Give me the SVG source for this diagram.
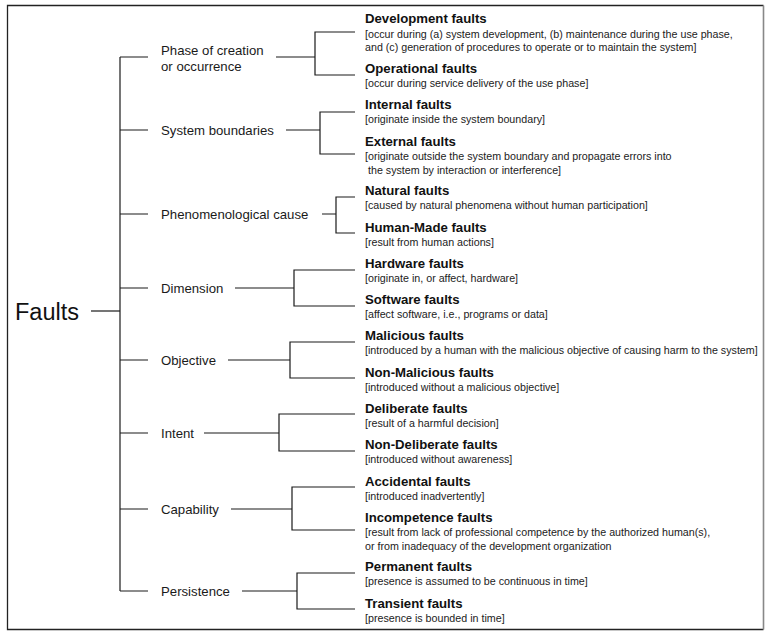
<svg xmlns="http://www.w3.org/2000/svg" width="770" height="636" viewBox="0 0 770 636">
<style>
text { font-family: "Liberation Sans", Arial, Helvetica, sans-serif; }
.root { font-size: 23.5px; fill: #111; }
.cat { font-size: 13.2px; fill: #1a1a1a; }
.ttl { font-size: 13.2px; font-weight: bold; fill: #111; }
.dsc { font-size: 10.7px; fill: #222; }
.conn { stroke: #1a1a1a; stroke-width: 1.2; fill: none; }
</style>
<rect width="770" height="636" fill="#ffffff"/>
<g id="frame">
  <path d="M763.5,5.5 H7.5 V629.5 H763.5" fill="none" stroke="#222" stroke-width="1.3"/>
  <path d="M763.5,5.5 V629.5" fill="none" stroke="#888" stroke-width="1.6"/>
</g>
<g id="connectors" class="conn">
  <path d="M91,311 H120"/>
  <path d="M120,57 V591"/>
  <path d="M120,57 H148 M120,130 H148 M120,214 H148 M120,288 H148 M120,360 H148 M120,433 H148 M120,509 H148 M120,591 H148"/>
  <path d="M276,57 H315 M355,32 H315 V75 H355"/>
  <path d="M286,130 H320 M355,112 H320 V154 H355"/>
  <path d="M322,214 H336 M355,197 H336 V233 H355"/>
  <path d="M235,288 H294 M355,270 H294 V306 H355"/>
  <path d="M228,360 H290 M355,342 H290 V378 H355"/>
  <path d="M204,433 H279 M355,414 H279 V451 H355"/>
  <path d="M231,509 H292 M355,487 H292 V530 H355"/>
  <path d="M242,591 H297 M355,573 H297 V609 H355"/>
</g>
<g id="faults"><text class="root" x="15" y="320">Faults</text></g>
<g id="phase"><text class="cat" x="161" y="54.5">Phase of creation</text><text class="cat" x="161" y="70.5">or occurrence</text></g>
<g id="boundaries"><text class="cat" x="161" y="134.5">System boundaries</text></g>
<g id="phenomenological"><text class="cat" x="161" y="219">Phenomenological cause</text></g>
<g id="dimension"><text class="cat" x="161" y="293">Dimension</text></g>
<g id="objective"><text class="cat" x="161" y="365">Objective</text></g>
<g id="intent"><text class="cat" x="161" y="438">Intent</text></g>
<g id="capability"><text class="cat" x="161" y="514">Capability</text></g>
<g id="persistence"><text class="cat" x="161" y="596">Persistence</text></g>

<g id="development"><text class="ttl" x="365" y="23">Development faults</text><text class="dsc" x="365" y="37.5">[occur during (a) system development, (b) maintenance during the use phase,</text><text class="dsc" x="365" y="51">and (c) generation of procedures to operate or to maintain the system]</text></g>
<g id="operational"><text class="ttl" x="365" y="72.5">Operational faults</text><text class="dsc" x="365" y="87">[occur during service delivery of the use phase]</text></g>
<g id="internal"><text class="ttl" x="365" y="108.5">Internal faults</text><text class="dsc" x="365" y="123">[originate inside the system boundary]</text></g>
<g id="external"><text class="ttl" x="365" y="145.5">External faults</text><text class="dsc" x="365" y="160">[originate outside the system boundary and propagate errors into</text><text class="dsc" x="368" y="173.5">the system by interaction or interference]</text></g>
<g id="natural"><text class="ttl" x="365" y="194.5">Natural faults</text><text class="dsc" x="365" y="209">[caused by natural phenomena without human participation]</text></g>
<g id="human-made"><text class="ttl" x="365" y="231.5">Human-Made faults</text><text class="dsc" x="365" y="246">[result from human actions]</text></g>
<g id="hardware"><text class="ttl" x="365" y="267.5">Hardware faults</text><text class="dsc" x="365" y="282">[originate in, or affect, hardware]</text></g>
<g id="software"><text class="ttl" x="365" y="303.5">Software faults</text><text class="dsc" x="365" y="318">[affect software, i.e., programs or data]</text></g>
<g id="malicious"><text class="ttl" x="365" y="339.5">Malicious faults</text><text class="dsc" x="365" y="354">[introduced by a human with the malicious objective of causing harm to the system]</text></g>
<g id="non-malicious"><text class="ttl" x="365" y="376.5">Non-Malicious faults</text><text class="dsc" x="365" y="391">[introduced without a malicious objective]</text></g>
<g id="deliberate"><text class="ttl" x="365" y="412.5">Deliberate faults</text><text class="dsc" x="365" y="427">[result of a harmful decision]</text></g>
<g id="non-deliberate"><text class="ttl" x="365" y="448.5">Non-Deliberate faults</text><text class="dsc" x="365" y="463">[introduced without awareness]</text></g>
<g id="accidental"><text class="ttl" x="365" y="485.5">Accidental faults</text><text class="dsc" x="365" y="500">[introduced inadvertently]</text></g>
<g id="incompetence"><text class="ttl" x="365" y="521.5">Incompetence faults</text><text class="dsc" x="365" y="536">[result from lack of professional competence by the authorized human(s),</text><text class="dsc" x="365" y="549.5">or from inadequacy of the development organization</text></g>
<g id="permanent"><text class="ttl" x="365" y="570.5">Permanent faults</text><text class="dsc" x="365" y="585">[presence is assumed to be continuous in time]</text></g>
<g id="transient"><text class="ttl" x="365" y="607.5">Transient faults</text><text class="dsc" x="365" y="622">[presence is bounded in time]</text></g>
</svg>
